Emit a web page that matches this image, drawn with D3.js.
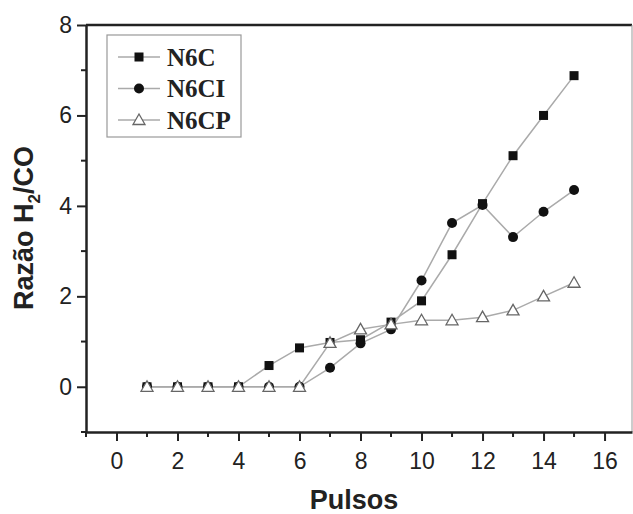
<!DOCTYPE html>
<html>
<head>
<meta charset="utf-8">
<script src="https://cdn.jsdelivr.net/npm/d3@7"></script>
<style>
  body { margin: 0; background: #fff; }
  svg { display: block; }
  .tick text { font-family: "Liberation Sans", Arial, sans-serif; font-size: 23px; fill: #222; }
  .title { font-family: "Liberation Sans", Arial, sans-serif; font-weight: bold; font-size: 27px; fill: #222; }
  .legend text { font-family: "Liberation Serif", "Times New Roman", serif; font-weight: bold; font-size: 25px; fill: #222; }
</style>
</head>
<body>
<svg id="chart" width="633" height="514"></svg>
<script>
// pulse numbers
var pulsos = [1, 2, 3, 4, 5, 6, 7, 8, 9, 10, 11, 12, 13, 14, 15];

// H2/CO ratio per catalyst
var n6c  = [0, 0, 0, 0, 0.47, 0.86, 0.98, 1.04, 1.43, 1.90, 2.92, 4.05, 5.11, 6.00, 6.88];
var n6ci = [0, 0, 0, 0, 0, 0, 0.42, 0.96, 1.27, 2.35, 3.62, 4.02, 3.31, 3.87, 4.35];
var n6cp = [0, 0, 0, 0, 0, 0, 0.97, 1.27, 1.38, 1.47, 1.47, 1.54, 1.69, 2.00, 2.30];

var xTicks = [0, 2, 4, 6, 8, 10, 12, 14, 16];
var yTicks = [0, 2, 4, 6, 8];

var seriesNames = ['N6C', 'N6CI', 'N6CP'];

(function() {
  var series = [
    { name: seriesNames[0], values: n6c,  shape: 'square' },
    { name: seriesNames[1], values: n6ci, shape: 'circle' },
    { name: seriesNames[2], values: n6cp, shape: 'triangle' }
  ];

  var svg = d3.select('#chart');

  var mLeft = 86, mRight = 632, mTop = 25, mBottom = 432;

  var x = d3.scaleLinear().domain([-1, 16.9]).range([mLeft, mRight]);
  var y = d3.scaleLinear().domain([-1, 8]).range([mBottom, mTop]);

  // frame: thick top, thin right
  svg.append('line')
      .attr('x1', mLeft).attr('x2', mRight)
      .attr('y1', mTop).attr('y2', mTop)
      .attr('stroke', '#222').attr('stroke-width', 2.5);
  svg.append('line')
      .attr('x1', mRight).attr('x2', mRight)
      .attr('y1', mTop).attr('y2', mBottom)
      .attr('stroke', '#999').attr('stroke-width', 1);

  // minor ticks
  var xMinor = [-1, 1, 3, 5, 7, 9, 11, 13, 15];
  var yMinor = [-1, 1, 3, 5, 7];

  svg.append('g')
      .selectAll('line')
      .data(xMinor)
    .enter().append('line')
      .attr('x1', function (d) { return x(d); })
      .attr('x2', function (d) { return x(d); })
      .attr('y1', mBottom).attr('y2', mBottom + 5)
      .attr('stroke', '#222').attr('stroke-width', 2);

  svg.append('g')
      .selectAll('line')
      .data(yMinor)
    .enter().append('line')
      .attr('x1', mLeft).attr('x2', mLeft - 5)
      .attr('y1', function (d) { return y(d); })
      .attr('y2', function (d) { return y(d); })
      .attr('stroke', '#222').attr('stroke-width', 2);

  var xAxis = svg.append('g')
      .attr('transform', 'translate(0,' + mBottom + ')')
      .call(d3.axisBottom(x).tickValues(xTicks).tickSize(9).tickPadding(12).tickSizeOuter(0));
  var yAxis = svg.append('g')
      .attr('transform', 'translate(' + mLeft + ',0)')
      .call(d3.axisLeft(y).tickValues(yTicks).tickSize(9).tickPadding(5).tickSizeOuter(0));

  [xAxis, yAxis].forEach(function (ax) {
    ax.select('.domain').attr('stroke', '#222').attr('stroke-width', 2.5);
    ax.selectAll('.tick line').attr('stroke', '#222').attr('stroke-width', 2);
  });

  // axis titles
  svg.append('text')
      .attr('class', 'title')
      .attr('x', 354).attr('y', 509)
      .attr('text-anchor', 'middle')
      .text('Pulsos');

  var yt = svg.append('text')
      .attr('class', 'title')
      .attr('transform', 'translate(33,228) rotate(-90)')
      .attr('text-anchor', 'middle');
  yt.append('tspan').text('Razão H');
  yt.append('tspan').attr('dy', 7).attr('font-size', 17).text('2');
  yt.append('tspan').attr('dy', -7).text('/CO');

  // series
  var line = d3.line()
      .x(function (d) { return x(d[0]); })
      .y(function (d) { return y(d[1]); });

  function drawMarker(g, shape, cx, cy) {
    if (shape === 'square') {
      g.append('rect')
          .attr('x', cx - 4.5).attr('y', cy - 4.5)
          .attr('width', 9).attr('height', 9)
          .attr('fill', '#111');
    } else if (shape === 'circle') {
      g.append('circle')
          .attr('cx', cx).attr('cy', cy).attr('r', 5)
          .attr('fill', '#111');
    } else {
      var s = 6;
      g.append('path')
          .attr('d', 'M' + cx + ',' + (cy - s) + 'L' + (cx + s) + ',' + (cy + s * 0.75) +
                     'L' + (cx - s) + ',' + (cy + s * 0.75) + 'Z')
          .attr('fill', '#fff')
          .attr('stroke', '#666').attr('stroke-width', 1.3);
    }
  }

  var plot = svg.append('g');

  series.forEach(function (s) {
    var pts = pulsos.map(function (p, i) { return [p, s.values[i]]; });
    plot.append('path')
        .datum(pts)
        .attr('d', line)
        .attr('fill', 'none')
        .attr('stroke', '#aaa')
        .attr('stroke-width', 1.5);
  });

  series.forEach(function (s) {
    var g = plot.append('g');
    pulsos.forEach(function (p, i) {
      drawMarker(g, s.shape, x(p), y(s.values[i]));
    });
  });

  // legend
  var lg = svg.append('g').attr('class', 'legend');
  lg.append('rect')
      .attr('x', 107).attr('y', 35)
      .attr('width', 134).attr('height', 102)
      .attr('fill', 'none')
      .attr('stroke', '#999').attr('stroke-width', 1.2);

  series.forEach(function (s, i) {
    var cy = 57 + i * 31.5;
    lg.append('line')
        .attr('x1', 118).attr('x2', 160)
        .attr('y1', cy).attr('y2', cy)
        .attr('stroke', '#aaa').attr('stroke-width', 1.5);
    drawMarker(lg, s.shape, 139, cy);
    lg.append('text')
        .attr('x', 167).attr('y', cy + 8.5)
        .text(s.name);
  });
})();
</script>
</body>
</html>
